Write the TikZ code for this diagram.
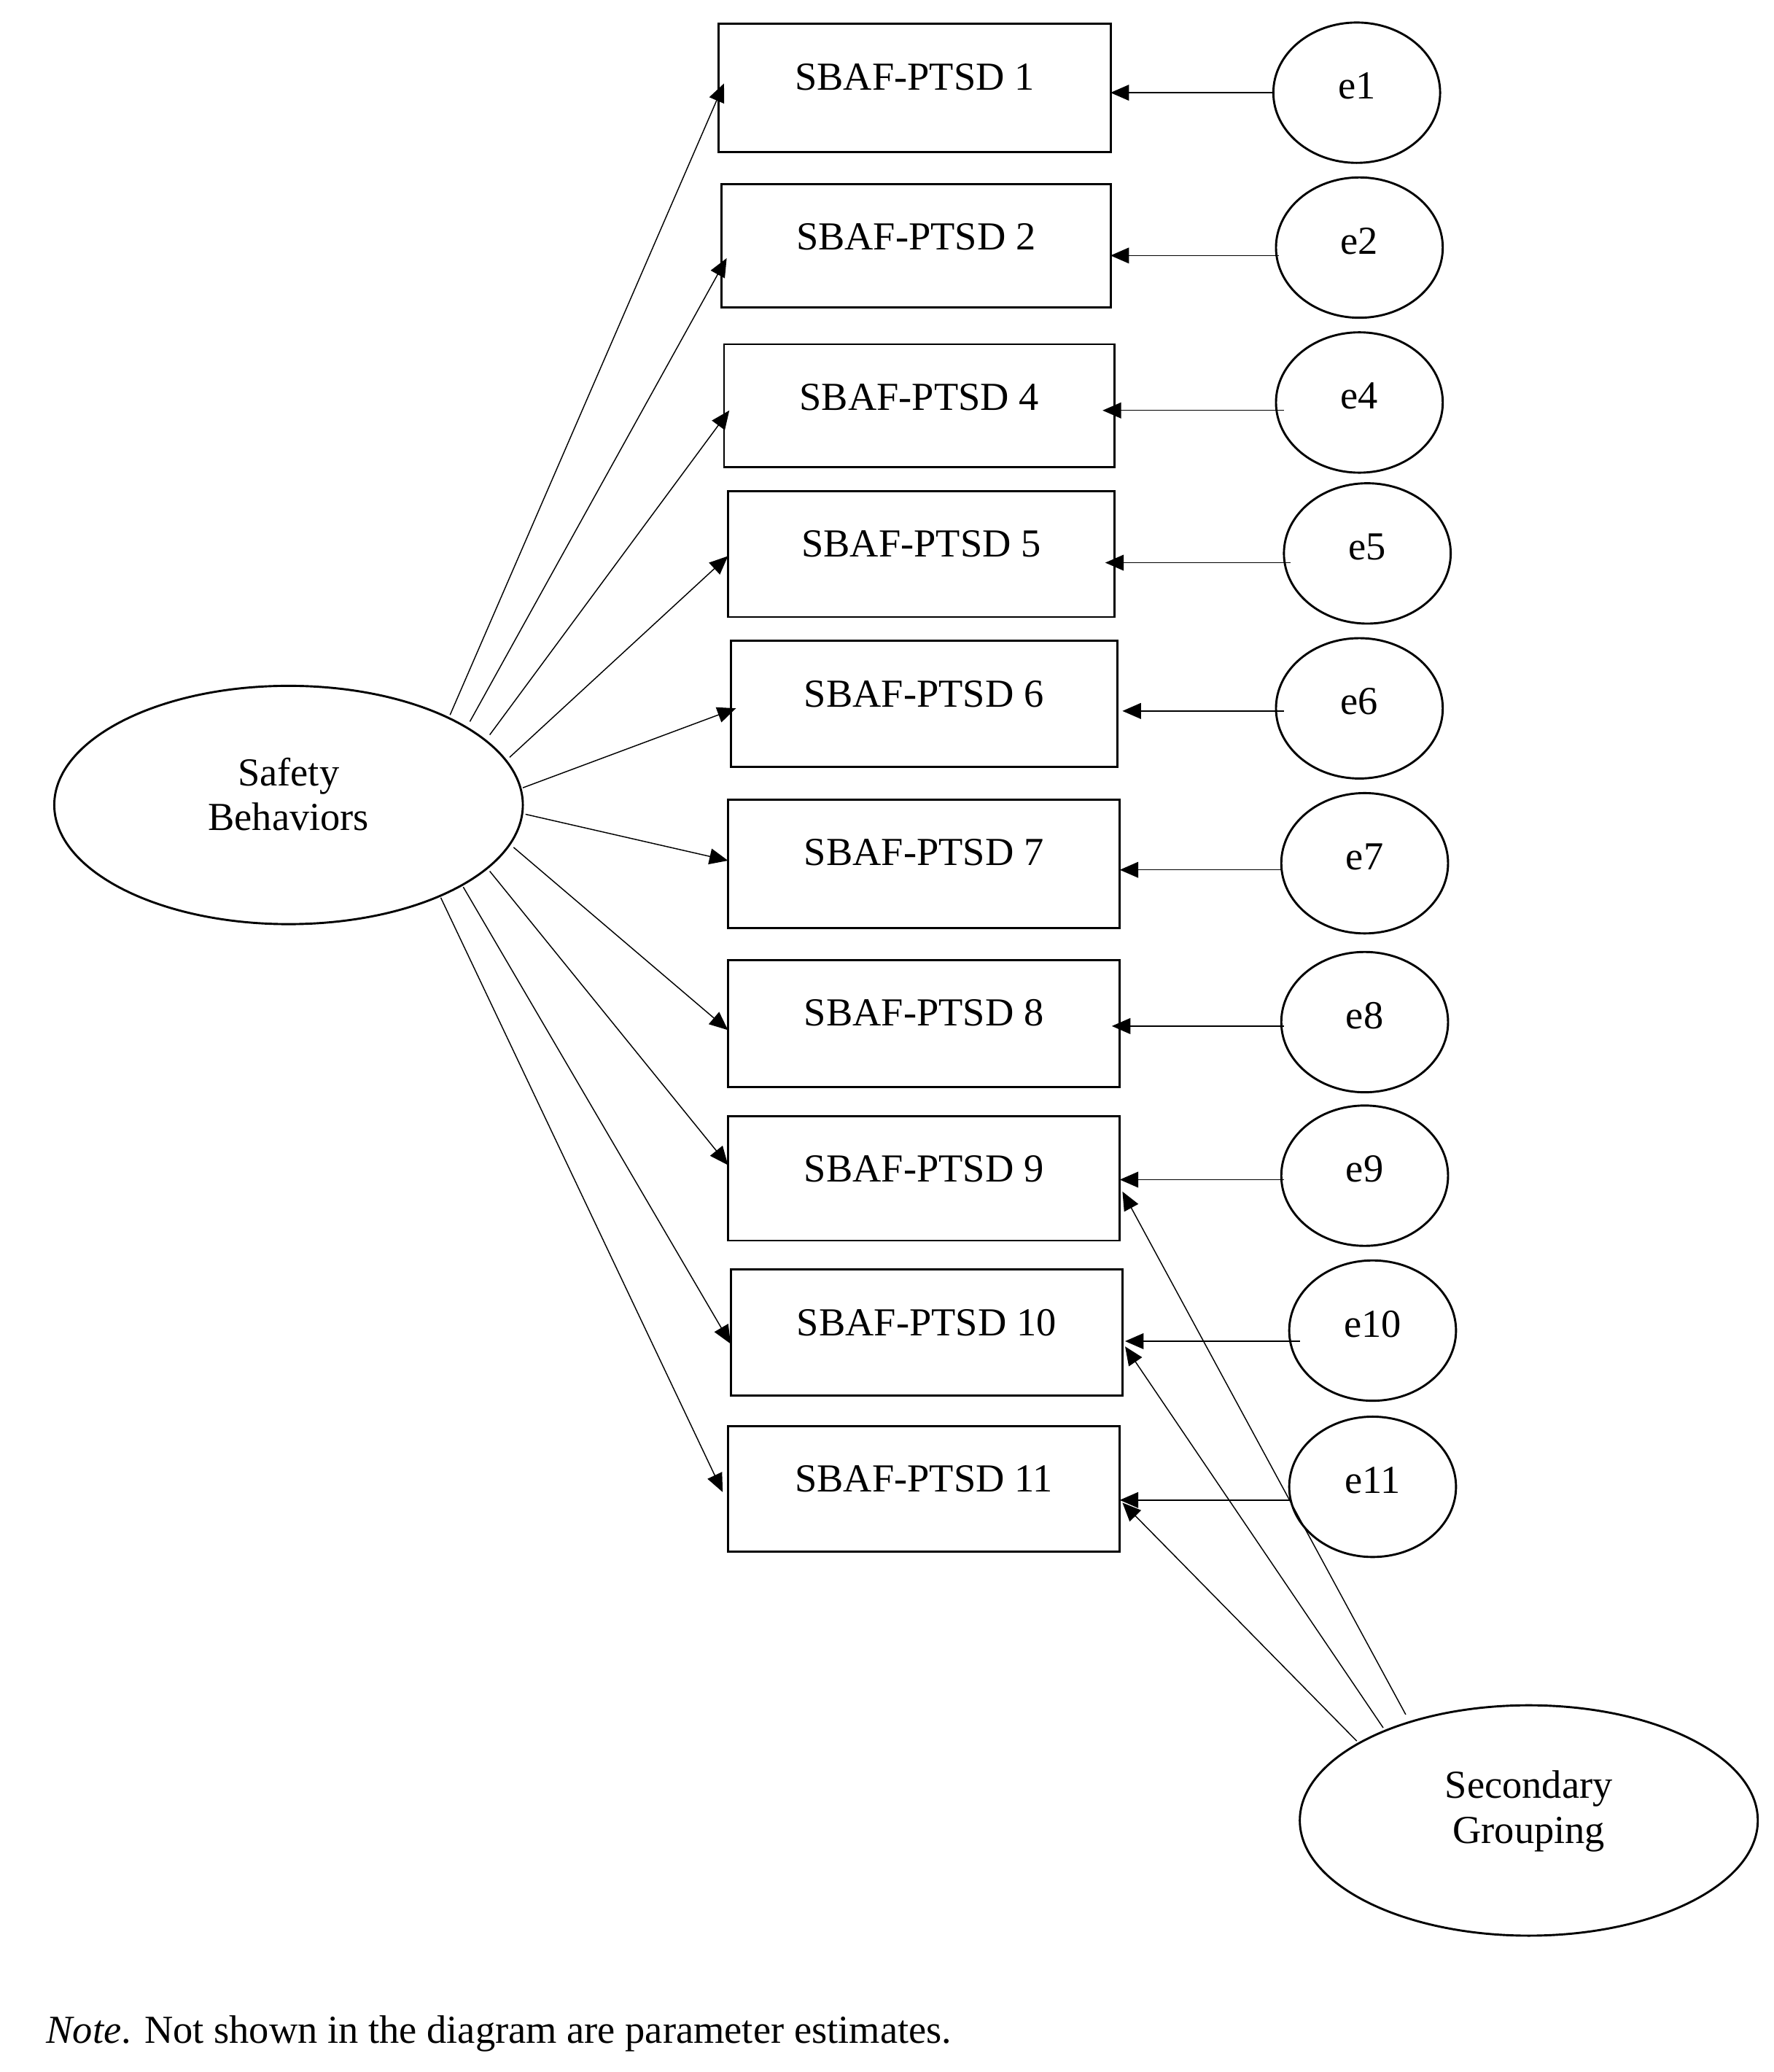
\documentclass[tikz,border=0pt]{standalone}
\usepackage{fontspec}
\setmainfont{Liberation Serif}
\usetikzlibrary{arrows.meta}
\begin{document}
\begin{tikzpicture}[x=0.5pt,y=-0.5pt,
  box/.style={draw,thick,rectangle,inner sep=0pt},
  lat/.style={draw,thick,ellipse,inner sep=0pt},
  lbl/.style={font=\fontsize{15}{17}\selectfont},
  arr/.style={-{Triangle[length=7pt,width=6pt]},thin}]
\useasboundingbox (0,0) rectangle (1340,1565);
% boxes
\foreach \n/\xa/\ya/\xb/\yb in {1/543/18/839/115,2/545/139/839/232,4/547/260/842/353,5/550/371/842/466,6/552/484/844/579,7/550/604/846/701,8/550/725/846/821,9/550/843/846/937,10/552/959/848/1054,11/550/1077/846/1172}{
  \draw[thick] (\xa,\ya) rectangle (\xb,\yb);
  \coordinate (b\n) at (\xa,\ya);
  \node[lbl] (t\n) at ({(\xa+\xb)/2},\ya+40) {SBAF-PTSD \n};
}
% error ellipses
\foreach \n/\cx/\cy/\ay in {1/1025/70/70,2/1027/187/193,4/1027/304/310,5/1033/418/425,6/1027/535/537,7/1031/652/657,8/1031/772/775,9/1031/888/891,10/1037/1005/1013,11/1037/1123/1133}{
  \draw[thick] (\cx,\cy) ellipse [x radius=63, y radius=53];
  \node[lbl] (e\n) at (\cx,\cy-5) {e\n};
}
\foreach \n/\xs/\xe/\y in {1/963/839/70,2/966/839/193,4/970/833/310,5/975/835/425,6/970/848/537,7/968/846/657,8/970/840/775,9/970/846/891,10/982/850/1013,11/975/846/1133}{
  \coordinate (es\n) at (\xs,\y); \coordinate (ee\n) at (\xe,\y);
  \draw[arr] (es\n) -- (ee\n);
}
% Safety Behaviors
\draw[thick] (218,608) ellipse [x radius=177, y radius=90];
\node[lbl,align=center] (sb) at (218,600) {Safety\\Behaviors};
\foreach \n/\sx/\sy/\ex/\ey in {1/340/540/547/63,2/355/545/549/195,4/370/555/551/310,5/385/572/550/420,6/395/595/556/535,7/397/615/550/650,8/388/640/550/778,9/370/658/550/880,10/350/670/552/1015,11/333/678/546/1127}{
  \coordinate (s\n) at (\sx,\sy); \coordinate (d\n) at (\ex,\ey);
  \draw[arr] (s\n) -- (d\n);
}
% Secondary Grouping
\draw[thick] (1155,1375) ellipse [x radius=173, y radius=87];
\node[lbl,align=center] (sg) at (1155,1368) {Secondary\\Grouping};
\coordinate (g9) at (1062,1295); \coordinate (g10) at (1045,1305); \coordinate (g11) at (1025,1315);
\coordinate (h9) at (848,900); \coordinate (h10) at (850,1017); \coordinate (h11) at (848,1135);
\draw[arr] (g9) -- (h9); \draw[arr] (g10) -- (h10); \draw[arr] (g11) -- (h11);
\node[lbl,anchor=west] (note) at (28,1536) {\textit{Note}. Not shown in the diagram are parameter estimates.};
\end{tikzpicture}
\end{document}
